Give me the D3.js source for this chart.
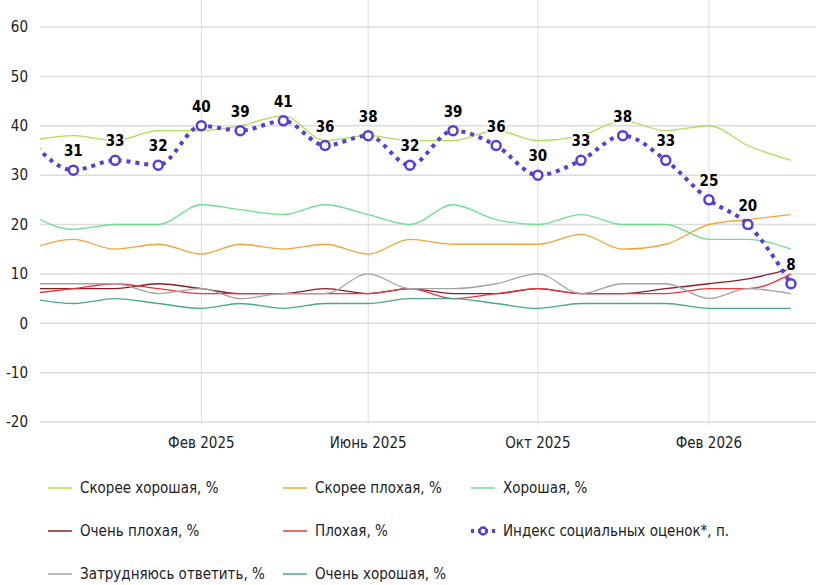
<!DOCTYPE html>
<html>
<head>
<meta charset="utf-8">
<script src="https://cdn.jsdelivr.net/npm/d3@7"></script>
<style>
  body { margin: 0; background: #fff; }
  svg text { font-family: "Liberation Sans Narrow", "DejaVu Sans Condensed", sans-serif; }
</style>
</head>
<body>
<div id="chart"></div>
<script>
// monthly data, Oct 2024 .. Apr 2026
const months = ["2024-10", "2024-11", "2024-12", "2025-01", "2025-02", "2025-03", "2025-04",
  "2025-05", "2025-06", "2025-07", "2025-08", "2025-09", "2025-10", "2025-11", "2025-12",
  "2026-01", "2026-02", "2026-03", "2026-04"];

const skoreeHoroshaya = [37, 38, 37, 39, 39, 40, 42, 37, 38, 37, 37, 39, 37, 38, 41, 39, 40, 36, 33];
const skoreePlokhaya  = [15, 17, 15, 16, 14, 16, 15, 16, 14, 17, 16, 16, 16, 18, 15, 16, 20, 21, 22];
const horoshaya       = [22, 19, 20, 20, 24, 23, 22, 24, 22, 20, 24, 21, 20, 22, 20, 20, 17, 17, 15];
const ochenPlokhaya   = [7, 7, 7, 8, 7, 6, 6, 7, 6, 7, 6, 6, 7, 6, 6, 7, 8, 9, 11];
const plokhaya        = [6, 7, 8, 7, 6, 6, 6, 6, 6, 7, 5, 6, 7, 6, 6, 6, 7, 7, 10];
const zatrudnyayus    = [8, 8, 8, 6, 7, 5, 6, 6, 10, 7, 7, 8, 10, 6, 8, 8, 5, 7, 6];
const ochenHoroshaya  = [5, 4, 5, 4, 3, 4, 3, 4, 4, 5, 5, 4, 3, 4, 4, 4, 3, 3, 3];
const indexValues     = [37, 31, 33, 32, 40, 39, 41, 36, 38, 32, 39, 36, 30, 33, 38, 33, 25, 20, 8];

const yTicks = [-20, -10, 0, 10, 20, 30, 40, 50, 60];
const xTicks = ["2025-02", "2025-06", "2025-10", "2026-02"];
const xTickLabels = ["Фев 2025", "Июнь 2025", "Окт 2025", "Фев 2026"];

const series = [
  {name: "Скорее хорошая, %", values: skoreeHoroshaya, color: "#a9df55"},
  {name: "Скорее плохая, %", values: skoreePlokhaya, color: "#f5a33a"},
  {name: "Хорошая, %", values: horoshaya, color: "#70de8c"},
  {name: "Очень плохая, %", values: ochenPlokhaya, color: "#8e1d22"},
  {name: "Плохая, %", values: plokhaya, color: "#e8383a"},
  {name: "Индекс социальных оценок*, п.", values: indexValues, color: "#5a3dd8", index: true},
  {name: "Затрудняюсь ответить, %", values: zatrudnyayus, color: "#a3a3a3"},
  {name: "Очень хорошая, %", values: ochenHoroshaya, color: "#4ba88e"}
];

const W = 832, H = 585;
const parse = d3.timeParse("%Y-%m");
const dates = months.map(parse);

const svg = d3.select("#chart").append("svg")
  .attr("width", W)
  .attr("height", H);

const plotLeft = 40, plotRight = 816;

const x = d3.scaleTime()
  .domain([new Date(2024, 9, 8), new Date(2026, 3, 19)])
  .range([plotLeft, plotRight]);

const y = d3.scaleLinear()
  .domain([-20, 60])
  .range([422, 27]);

// horizontal grid
svg.append("g")
  .selectAll("line")
  .data(yTicks)
  .join("line")
    .attr("x1", plotLeft).attr("x2", plotRight)
    .attr("y1", d => y(d)).attr("y2", d => y(d))
    .attr("stroke", "#dcdcdc")
    .attr("stroke-width", 1.5);

// vertical grid
svg.append("g")
  .selectAll("line")
  .data(xTicks)
  .join("line")
    .attr("x1", d => x(parse(d))).attr("x2", d => x(parse(d)))
    .attr("y1", 0).attr("y2", 425)
    .attr("stroke", "#dcdcdc")
    .attr("stroke-width", 1);

// y axis labels
svg.append("g")
  .selectAll("text")
  .data(yTicks)
  .join("text")
    .attr("x", 28)
    .attr("y", d => y(d))
    .attr("dy", "0.35em")
    .attr("text-anchor", "end")
    .attr("fill", "#222")
    .style("font-size", "15px")
    .text(d => d);

// x axis labels
svg.append("g")
  .selectAll("text")
  .data(xTicks)
  .join("text")
    .attr("x", d => x(parse(d)))
    .attr("y", 443)
    .attr("dy", "0.35em")
    .attr("text-anchor", "middle")
    .attr("fill", "#222")
    .style("font-size", "15px")
    .text((d, i) => xTickLabels[i]);

svg.append("clipPath")
  .attr("id", "plotclip")
  .append("rect")
    .attr("x", plotLeft).attr("y", 0)
    .attr("width", plotRight - plotLeft).attr("height", 440);

const line = d3.line()
  .x(d => x(d.date))
  .y(d => y(d.value))
  .curve(d3.curveMonotoneX);

const plot = svg.append("g").attr("clip-path", "url(#plotclip)");

// thin lines first, index last on top
const drawOrder = series.filter(s => !s.index).concat(series.filter(s => s.index));
drawOrder.forEach(s => {
  const pts = s.values.map((v, i) => ({date: dates[i], value: v}));
  plot.append("path")
    .datum(pts)
    .attr("fill", "none")
    .attr("stroke", s.color)
    .attr("stroke-width", s.index ? 4 : 1.3)
    .attr("stroke-dasharray", s.index ? "4,5" : null)
    .attr("d", line);

  if (s.index) {
    const visible = pts.filter(d => x(d.date) >= plotLeft);
    plot.selectAll(".dot")
      .data(visible)
      .join("circle")
        .attr("class", "dot")
        .attr("cx", d => x(d.date))
        .attr("cy", d => y(d.value))
        .attr("r", 4.5)
        .attr("fill", "#fff")
        .attr("stroke", s.color)
        .attr("stroke-width", 2.5);

    svg.selectAll(".lbl")
      .data(visible)
      .join("text")
        .attr("class", "lbl")
        .attr("x", d => x(d.date))
        .attr("y", d => y(d.value) - 14)
        .attr("text-anchor", "middle")
        .style("font-size", "15px")
        .style("font-weight", "bold")
        .attr("fill", "#000")
        .attr("stroke", "#fff")
        .attr("stroke-width", 3)
        .attr("stroke-linejoin", "round")
        .style("paint-order", "stroke")
        .text(d => d.value);
  }
});

// legend, 3 columns
const legendCols = [48, 283, 471];
const legendRows = [488, 531, 574];
const legend = svg.append("g");
series.forEach((s, i) => {
  const lx = legendCols[i % 3], ly = legendRows[Math.floor(i / 3)];
  const g = legend.append("g").attr("transform", `translate(${lx},${ly})`);
  if (s.index) {
    g.append("line")
      .attr("x1", 0).attr("x2", 24).attr("y1", 0).attr("y2", 0)
      .attr("stroke", s.color).attr("stroke-width", 4).attr("stroke-dasharray", "3,4");
    g.append("circle")
      .attr("cx", 12).attr("cy", 0).attr("r", 3.5)
      .attr("fill", "#fff").attr("stroke", s.color).attr("stroke-width", 2.5);
  } else {
    g.append("line")
      .attr("x1", 0).attr("x2", 24).attr("y1", 0).attr("y2", 0)
      .attr("stroke", s.color).attr("stroke-width", 1.5);
  }
  g.append("text")
    .attr("x", 32)
    .attr("y", 0)
    .attr("dy", "0.35em")
    .attr("fill", "#222")
    .style("font-size", "15px")
    .text(s.name);
});
</script>
</body>
</html>
